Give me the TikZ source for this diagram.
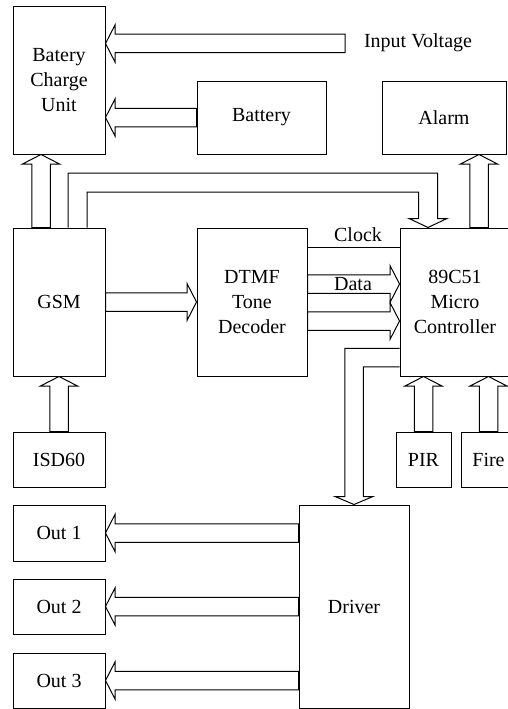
\documentclass[tikz,border=0pt]{standalone}
\usepackage{fontspec}
\setmainfont{Liberation Serif}
\usetikzlibrary{calc}
\def\ahs{9.25}
\def\ahh{18.5}
\def\ahl{9.5}
% block arrows: #1 tail, #2 tip
\newcommand{\ArrowLeft}[2]{\draw[blk] ($(#1)+(0,-\ahs)$) -- ($(#2)+(\ahl,-\ahs)$) -- ($(#2)+(\ahl,-\ahh)$) -- (#2) -- ($(#2)+(\ahl,\ahh)$) -- ($(#2)+(\ahl,\ahs)$) -- ($(#1)+(0,\ahs)$) -- cycle;}
\newcommand{\ArrowRight}[2]{\draw[blk] ($(#1)+(0,-\ahs)$) -- ($(#2)+(-\ahl,-\ahs)$) -- ($(#2)+(-\ahl,-\ahh)$) -- (#2) -- ($(#2)+(-\ahl,\ahh)$) -- ($(#2)+(-\ahl,\ahs)$) -- ($(#1)+(0,\ahs)$) -- cycle;}
\newcommand{\ArrowUp}[2]{\draw[blk] ($(#1)+(-\ahs,0)$) -- ($(#2)+(-\ahs,\ahl)$) -- ($(#2)+(-\ahh,\ahl)$) -- (#2) -- ($(#2)+(\ahh,\ahl)$) -- ($(#2)+(\ahs,\ahl)$) -- ($(#1)+(\ahs,0)$) -- cycle;}
\begin{document}
\begin{tikzpicture}[x=1pt,y=-1pt,
  box/.style={draw,line width=1pt,inner sep=0pt,align=center,font=\fontsize{20}{25}\selectfont},
  blk/.style={draw,line width=1pt,line join=miter},
  lbl/.style={inner sep=0pt,font=\fontsize{20}{25}\selectfont}]
\useasboundingbox (0,0) rectangle (507,709);
% boxes
\node[box,minimum width=92pt,minimum height=147pt] (bcu) at (59,80.5) {Batery\\Charge\\Unit};
\node[box,minimum width=129pt,minimum height=73pt] (battery) at (261.5,117.5) {Battery};
\node[box,minimum width=124pt,minimum height=73pt] (alarm) at (444,117.5) {Alarm};
\node[box,minimum width=92pt,minimum height=148pt] (gsm) at (59,302) {GSM};
\node[box,minimum width=110pt,minimum height=148pt] (dtmf) at (252,302) {DTMF\\Tone\\Decoder};
\node[box,minimum width=110pt,minimum height=148pt] (micro) at (455,302) {89C51\\Micro\\Controller};
\node[box,minimum width=92pt,minimum height=55pt] (isd) at (59,459.5) {ISD60};
\node[box,minimum width=55pt,minimum height=55pt] (pir) at (423.5,459.5) {PIR};
\node[box,minimum width=55pt,minimum height=55pt] (fire) at (488.5,459.5) {Fire};
\node[box,minimum width=92pt,minimum height=56pt] (out1) at (59,533) {Out 1};
\node[box,minimum width=92pt,minimum height=55pt] (out2) at (59,606.5) {Out 2};
\node[box,minimum width=92pt,minimum height=55pt] (out3) at (59,680.5) {Out 3};
\node[box,minimum width=110pt,minimum height=203pt] (driver) at (354,606.5) {Driver};
% input voltage
\node[lbl] (iv) at (418,43) {Input Voltage};
\coordinate (ivt) at (345,43.5);
\coordinate (ivh) at (bcu.east |- ivt);
\ArrowLeft{ivt}{ivh}
% battery
\coordinate (bath) at (bcu.east |- battery.west);
\ArrowLeft{battery.west}{bath}
% gsm -> bcu
\coordinate (g1) at ($(gsm.north)+(-18,0)$);
\coordinate (g1h) at (g1 |- bcu.south);
\ArrowUp{g1}{g1h}
% micro -> alarm
\coordinate (a1) at ($(micro.north)+(24,0)$);
\coordinate (a1h) at (a1 |- alarm.south);
\ArrowUp{a1}{a1h}
% gsm -> dtmf
\ArrowRight{gsm.east}{dtmf.west}
% clock
\coordinate (c1) at ($(dtmf.east)+(0,-55)$);
\coordinate (c1h) at (micro.west |- c1);
\draw[line width=1pt] (c1) -- (c1h);
\node[lbl] (clock) at (358,235) {Clock};
% data
\coordinate (d1) at ($(dtmf.east)+(0,-18)$);
\coordinate (d1h) at (micro.west |- d1);
\coordinate (d2) at ($(dtmf.east)+(0,19)$);
\coordinate (d2h) at (micro.west |- d2);
\ArrowRight{d1}{d1h}
\ArrowRight{d2}{d2h}
\node[lbl] (data) at (353,284) {Data};
% isd -> gsm
\ArrowUp{isd.north}{gsm.south}
% pir, fire -> micro
\coordinate (ph) at (pir.north |- micro.south);
\ArrowUp{pir.north}{ph}
\coordinate (fh) at (fire.north |- micro.south);
\ArrowUp{fire.north}{fh}
% driver -> outs
\coordinate (o1t) at (driver.west |- out1.east);
\ArrowLeft{o1t}{out1.east}
\coordinate (o2t) at (driver.west |- out2.east);
\ArrowLeft{o2t}{out2.east}
\coordinate (o3t) at (driver.west |- out3.east);
\ArrowLeft{o3t}{out3.east}
% bent arrow gsm -> micro
\coordinate (b0) at ($(gsm.north)+(18.5,0)$);
\coordinate (b3) at ($(micro.north)+(-27,0)$);
\coordinate (bh) at (0,182.5);
\draw[blk] ($(b0)+(-9.5,0)$) -- ($(b0|-bh)+(-9.5,-9.5)$) -- ($(b3|-bh)+(9.5,-9.5)$) -- ($(b3)+(9.5,-9)$) -- ($(b3)+(19,-9)$) -- (b3) -- ($(b3)+(-19,-9)$) -- ($(b3)+(-9.5,-9)$) -- ($(b3|-bh)+(-9.5,9.5)$) -- ($(b0|-bh)+(9.5,9.5)$) -- ($(b0)+(9.5,0)$);
% bent arrow micro -> driver
\coordinate (m0) at ($(micro.west)+(0,55.5)$);
\coordinate (m1) at (driver.north |- m0);
\draw[blk] ($(m0)+(0,-9.25)$) -- ($(m1)+(-9.25,-9.25)$) -- ($(driver.north)+(-9.25,-8)$) -- ($(driver.north)+(-19,-8)$) -- (driver.north) -- ($(driver.north)+(19,-8)$) -- ($(driver.north)+(9.25,-8)$) -- ($(m1)+(9.25,9.25)$) -- ($(m0)+(0,9.25)$);
\end{tikzpicture}
\end{document}
